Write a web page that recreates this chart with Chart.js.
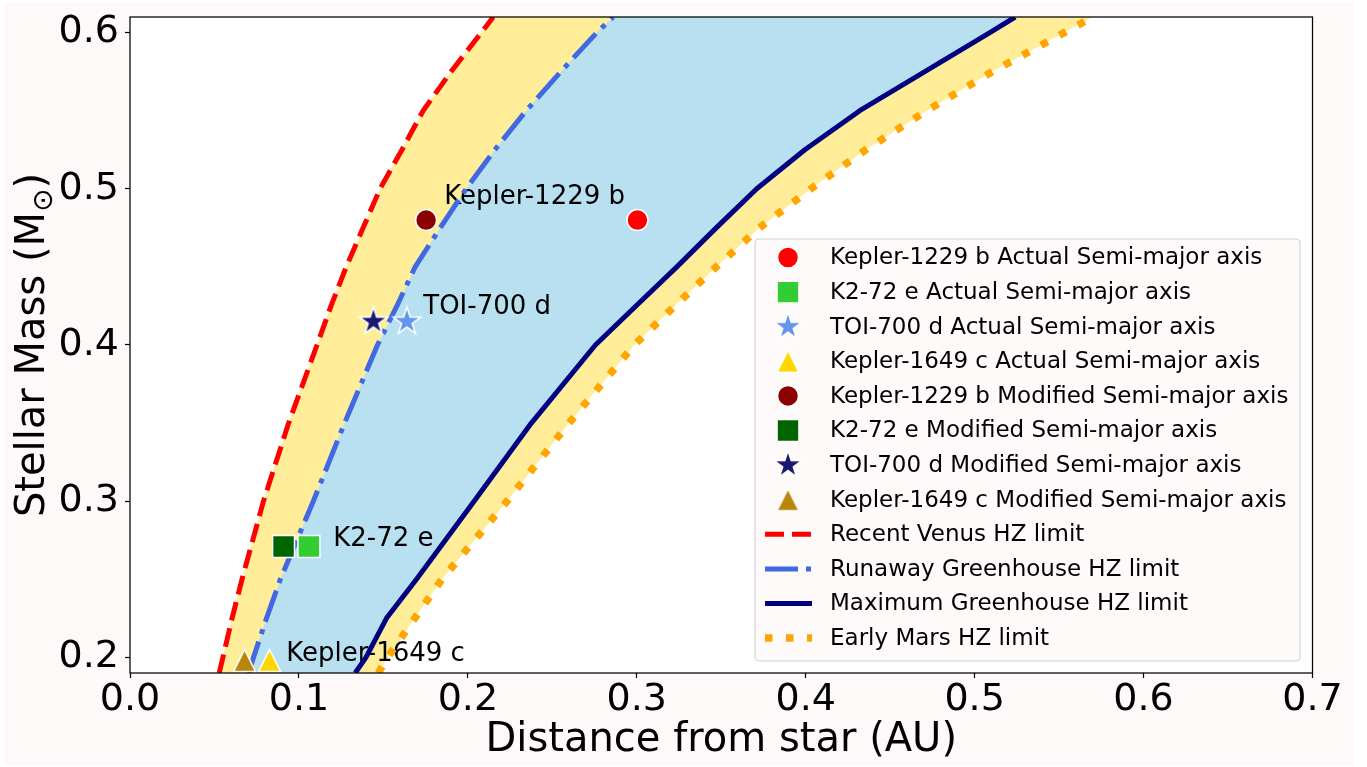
<!DOCTYPE html>
<html>
<head>
<meta charset="utf-8">
<script src="https://cdn.jsdelivr.net/npm/chart.js@4.4.1/dist/chart.umd.min.js"></script>
<style>
  html, body { margin: 0; padding: 0; background: #ffffff; }
  #frame { position: absolute; left: 4px; top: 2px; width: 1350px; height: 764px; background: #fdf9f8; }
  #wrap { position: absolute; left: 0; top: 0; width: 1367px; height: 767px; }
</style>
</head>
<body>
<div id="frame"></div>
<div id="wrap"><canvas id="hzChart" width="1367" height="767"></canvas></div>
<script>
const massLevels  = [0.19, 0.2, 0.225, 0.25, 0.3, 0.35, 0.4, 0.425, 0.45, 0.475, 0.5, 0.525, 0.55, 0.575, 0.6, 0.61];
// HZ limit distances (AU) at those masses
const recentVenus = [0.0528, 0.055, 0.0604, 0.0663, 0.079, 0.0939, 0.1107, 0.119, 0.128, 0.138, 0.148, 0.161, 0.1735, 0.19, 0.208, 0.215];
const runawayGH   = [0.0702, 0.0731, 0.0808, 0.089, 0.1085, 0.127, 0.1465, 0.158, 0.1688, 0.1836, 0.199, 0.216, 0.2345, 0.255, 0.2763, 0.286];
const maximumGH   = [0.1333, 0.1397, 0.1518, 0.1696, 0.2037, 0.2376, 0.2755, 0.2995, 0.3237, 0.347, 0.371, 0.3995, 0.432, 0.4705, 0.509, 0.524];
const earlyMars   = [0.147, 0.1525, 0.1685, 0.1846, 0.2232, 0.2598, 0.2985, 0.3225, 0.347, 0.3726, 0.4031, 0.4355, 0.4716, 0.5104, 0.553, 0.570];

// planets
const planetNames  = ['Kepler-1229 b', 'K2-72 e', 'TOI-700 d', 'Kepler-1649 c'];
const hostMass     = [0.48, 0.271, 0.415, 0.198];
const actualAxis   = [0.3004, 0.1059, 0.1639, 0.0826];
const modifiedAxis = [0.1753, 0.0909, 0.1441, 0.0678];
const labelX       = [0.186, 0.1203, 0.1736, 0.0925];
const labelY       = [0.490, 0.271, 0.420, 0.1976];

const xTicks = [0.0, 0.1, 0.2, 0.3, 0.4, 0.5, 0.6, 0.7];
const yTicks = [0.2, 0.3, 0.4, 0.5, 0.6];

const actualColors   = ['#ff0000', '#32cd32', '#6495ed', '#ffd700'];
const modifiedColors = ['#8b0000', '#006400', '#191970', '#b8860b'];

function markerCanvas(kind, fill) {
    const c = document.createElement('canvas');
    const size = kind === 'star' ? 34 : 27;
    c.width = size; c.height = size;
    const g = c.getContext('2d');
    const cx = size / 2, cy = size / 2;
    g.beginPath();
    if (kind === 'star') {
        const R = 14.5, r = R * 0.382;
        for (let k = 0; k < 10; k++) {
            const ang = -Math.PI / 2 + k * Math.PI / 5;
            const rad = k % 2 ? r : R;
            g.lineTo(cx + rad * Math.cos(ang), cy + rad * Math.sin(ang));
        }
    } else {
        const h = 11;
        g.moveTo(cx, cy - h);
        g.lineTo(cx + h, cy + h);
        g.lineTo(cx - h, cy + h);
    }
    g.closePath();
    g.fillStyle = fill;
    g.fill();
    g.strokeStyle = '#ffffff';
    g.lineWidth = 1.5;
    g.stroke();
    return c;
}

const markerStyles = ['circle', 'rect', 'star', 'triangle'];
const markerRadius = [10.5, 15.5, 12, 12];

function planetDataset(i, kind) {
    const actual = kind === 'Actual';
    const color = actual ? actualColors[i] : modifiedColors[i];
    const style = markerStyles[i];
    const pointStyle = (style === 'star' || style === 'triangle') ? markerCanvas(style, color) : style;
    return {
        label: planetNames[i] + ' ' + kind + ' Semi-major axis',
        data: [{ x: actual ? actualAxis[i] : modifiedAxis[i], y: hostMass[i] }],
        showLine: false,
        pointStyle: pointStyle,
        pointRadius: markerRadius[i],
        pointBackgroundColor: color,
        pointBorderColor: '#ffffff',
        pointBorderWidth: 1.5,
        order: 0,
        inLegend: true
    };
}

function curve(values) {
    return values.map((v, i) => ({ x: v, y: massLevels[i] }));
}

function limitDataset(label, values, color, dash, width) {
    return {
        label: label,
        data: curve(values),
        showLine: true,
        pointRadius: 0,
        borderColor: color,
        backgroundColor: color,
        borderWidth: width,
        borderDash: dash,
        borderCapStyle: 'butt',
        borderJoinStyle: 'round',
        tension: 0,
        fill: false,
        order: 1,
        inLegend: true
    };
}

function bandDataset(inner, outer, color, order) {
    return {
        label: 'band',
        data: curve(inner).concat(curve(outer).reverse()),
        showLine: true,
        pointRadius: 0,
        borderWidth: 0,
        borderColor: 'rgba(0,0,0,0)',
        backgroundColor: color,
        fill: 'shape',
        tension: 0,
        order: order,
        inLegend: false
    };
}

const datasets = [];
for (let i = 0; i < 4; i++) datasets.push(planetDataset(i, 'Actual'));
for (let i = 0; i < 4; i++) datasets.push(planetDataset(i, 'Modified'));
datasets.push(limitDataset('Recent Venus HZ limit', recentVenus, '#ff0000', [19, 8], 5));
datasets.push(limitDataset('Runaway Greenhouse HZ limit', runawayGH, '#4169e1', [33, 8, 5, 8], 5));
datasets.push(limitDataset('Maximum Greenhouse HZ limit', maximumGH, '#000080', [], 5));
datasets.push(limitDataset('Early Mars HZ limit', earlyMars, '#ffa500', [7.5, 13.5], 7.5));
datasets.push(bandDataset(recentVenus, earlyMars, '#ffed9a', 6));
datasets.push(bandDataset(runawayGH, maximumGH, '#b8e0f1', 5));

const FONT = '"DejaVu Sans", Verdana, sans-serif';

const hzExtras = {
    id: 'hzExtras',
    beforeDraw(chart) {
        const { ctx, chartArea: a } = chart;
        ctx.save();
        ctx.fillStyle = '#ffffff';
        ctx.fillRect(a.left, a.top, a.width, a.height);
        ctx.restore();
    },
    beforeDatasetsDraw(chart) {
        // planet name labels sit above the fills but under the curves
        const { ctx, chartArea: a } = chart;
        const xs = chart.scales.x, ys = chart.scales.y;
        ctx.save();
        ctx.beginPath();
        ctx.rect(a.left, a.top, a.width, a.height);
        ctx.clip();
        ctx.font = '26px ' + FONT;
        ctx.fillStyle = '#000000';
        ctx.textAlign = 'left';
        ctx.textBaseline = 'alphabetic';
        planetNames.forEach((name, i) => {
            ctx.fillText(name, xs.getPixelForValue(labelX[i]), ys.getPixelForValue(labelY[i]));
        });
        ctx.restore();
    },
    afterDraw(chart) {
        const { ctx, chartArea: a } = chart;
        ctx.save();
        ctx.strokeStyle = '#000000';
        ctx.lineWidth = 1.25;
        ctx.strokeRect(a.left, a.top, a.width, a.height);

        // y axis title with a subscript sun symbol
        const big = '40px ' + FONT, small = '28px ' + FONT;
        const parts = [['Stellar Mass (M', big, 0], ['\u2299', small, 8], [')', big, 0]];
        let total = 0;
        parts.forEach(p => { ctx.font = p[1]; p.push(ctx.measureText(p[0]).width); total += p[3]; });
        ctx.save();
        ctx.translate(44, (a.top + a.bottom) / 2);
        ctx.rotate(-Math.PI / 2);
        ctx.fillStyle = '#000000';
        ctx.textAlign = 'left';
        ctx.textBaseline = 'alphabetic';
        let tx = -total / 2;
        parts.forEach(p => { ctx.font = p[1]; ctx.fillText(p[0], tx, p[2]); tx += p[3]; });
        ctx.restore();

        // legend box, lower right inside the axes
        const items = chart.data.datasets.filter(d => d.inLegend);
        const boxW = 545, boxH = 422;
        const bx = a.right - 12.5 - boxW, by = a.bottom - 12 - boxH;
        ctx.beginPath();
        ctx.roundRect(bx, by, boxW, boxH, 4);
        ctx.fillStyle = 'rgba(253,249,248,0.9)';
        ctx.fill();
        ctx.strokeStyle = '#d4d4d4';
        ctx.lineWidth = 1.2;
        ctx.stroke();

        ctx.font = '23px ' + FONT;
        ctx.textAlign = 'left';
        ctx.textBaseline = 'middle';
        items.forEach((d, i) => {
            const y = by + 18.5 + i * 34.6;
            const mx = bx + 33;
            if (d.showLine) {
                ctx.save();
                ctx.strokeStyle = d.borderColor;
                ctx.lineWidth = d.borderWidth;
                ctx.lineCap = 'butt';
                ctx.setLineDash(d.borderDash);
                ctx.beginPath();
                ctx.moveTo(bx + 10, y);
                ctx.lineTo(bx + 57, y);
                ctx.stroke();
                ctx.restore();
            } else {
                ctx.save();
                ctx.fillStyle = d.pointBackgroundColor;
                ctx.strokeStyle = d.pointBorderColor;
                ctx.lineWidth = d.pointBorderWidth;
                Chart.helpers.drawPoint(ctx, {
                    pointStyle: d.pointStyle, radius: d.pointRadius,
                    borderWidth: d.pointBorderWidth, rotation: 0
                }, mx, y);
                ctx.restore();
            }
            ctx.fillStyle = '#000000';
            ctx.fillText(d.label, bx + 75, y + 1);
        });
        ctx.restore();
    }
};

new Chart(document.getElementById('hzChart'), {
    type: 'scatter',
    data: { datasets: datasets },
    options: {
        responsive: false,
        animation: false,
        events: [],
        layout: { padding: { top: 12, right: 54.5, left: 0, bottom: 0 } },
        plugins: {
            legend: { display: false },
            tooltip: { enabled: false },
            filler: { drawTime: 'beforeDatasetsDraw' }
        },
        scales: {
            x: {
                type: 'linear',
                min: 0,
                max: 0.7,
                afterBuildTicks: s => { s.ticks = xTicks.map(v => ({ value: v })); },
                afterFit: s => { s.height = 94; s.paddingLeft = 0; s.paddingRight = 0; },
                ticks: {
                    font: { family: FONT, size: 38 },
                    color: '#000000',
                    padding: -1,
                    maxRotation: 0,
                    autoSkip: false,
                    callback: v => Number(v).toFixed(1)
                },
                grid: { drawOnChartArea: false, tickLength: 5, tickColor: '#000000', tickWidth: 1.2 },
                border: { display: false },
                title: {
                    display: true,
                    text: 'Distance from star (AU)',
                    font: { family: FONT, size: 40 },
                    color: '#000000',
                    padding: { top: 0, bottom: 2 }
                }
            },
            y: {
                type: 'linear',
                min: 0.19,
                max: 0.61,
                afterBuildTicks: s => { s.ticks = yTicks.map(v => ({ value: v })); },
                afterFit: s => { s.width = 130; s.paddingTop = 0; s.paddingBottom = 0; },
                ticks: {
                    font: { family: FONT, size: 38 },
                    color: '#000000',
                    padding: 6,
                    autoSkip: false,
                    callback: v => Number(v).toFixed(1)
                },
                grid: { drawOnChartArea: false, tickLength: 5, tickColor: '#000000', tickWidth: 1.2 },
                border: { display: false },
                title: { display: false }
            }
        }
    },
    plugins: [hzExtras]
});
</script>
</body>
</html>
